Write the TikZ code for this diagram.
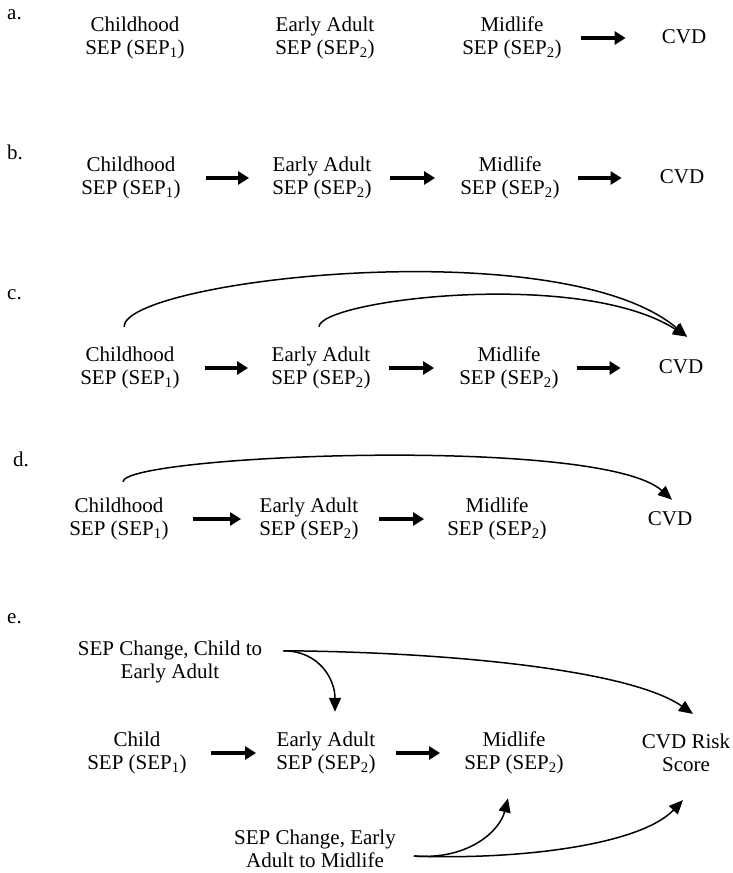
\documentclass[tikz,border=0pt]{standalone}
\usepackage{fontspec}
\setmainfont{Liberation Serif}
\usetikzlibrary{arrows.meta}
\tikzset{
  lab/.style={font=\fontsize{21}{23}\selectfont, align=center, inner sep=0pt},
  plab/.style={font=\fontsize{21}{23}\selectfont, inner sep=0pt, anchor=base west},
  fat/.style={line width=3.2pt, -{Triangle[length=11pt,width=13pt]}},
  curv/.style={line width=1.5pt, -{Triangle[length=14pt,width=12pt]}}
}
\begin{document}
\begin{tikzpicture}[x=1pt,y=-1pt]
\useasboundingbox (0,0) rectangle (733,873);
% ---------- a ----------
\node[plab] (la) at (7,19) {a.};
\node[lab] (a1) at (135,38) {Childhood\\SEP (SEP\textsubscript{1})};
\node[lab] (a2) at (325,38) {Early Adult\\SEP (SEP\textsubscript{2})};
\node[lab] (a3) at (512,38) {Midlife\\SEP (SEP\textsubscript{2})};
\node[lab] (a4) at (684,37) {CVD};
\draw[fat, shorten <=19pt, shorten >=36pt] (a3.east) -- (a3.east -| a4.west);
% ---------- b ----------
\node[plab] (lb) at (7,159) {b.};
\node[lab] (b1) at (131,178) {Childhood\\SEP (SEP\textsubscript{1})};
\node[lab] (b2) at (322,178) {Early Adult\\SEP (SEP\textsubscript{2})};
\node[lab] (b3) at (510,178) {Midlife\\SEP (SEP\textsubscript{2})};
\node[lab] (b4) at (682,177) {CVD};
\draw[fat, shorten <=25pt, shorten >=23pt] (b1.east) -- (b1.east -| b2.west);
\draw[fat, shorten <=18pt, shorten >=25pt] (b2.east) -- (b2.east -| b3.west);
\draw[fat, shorten <=18pt, shorten >=38pt] (b3.east) -- (b3.east -| b4.west);
% ---------- c ----------
\node[plab] (lc) at (7,299) {c.};
\node[lab] (c1) at (130,368) {Childhood\\SEP (SEP\textsubscript{1})};
\node[lab] (c2) at (321,368) {Early Adult\\SEP (SEP\textsubscript{2})};
\node[lab] (c3) at (509,368) {Midlife\\SEP (SEP\textsubscript{2})};
\node[lab] (c4) at (681,367) {CVD};
\draw[fat, shorten <=25pt, shorten >=23pt] (c1.east) -- (c1.east -| c2.west);
\draw[fat, shorten <=18pt, shorten >=25pt] (c2.east) -- (c2.east -| c3.west);
\draw[fat, shorten <=18pt, shorten >=38pt] (c3.east) -- (c3.east -| c4.west);
\draw[curv] ([shift={(-6pt,20pt)}]c1.north) .. controls (124,280) and (560,230) .. ([shift={(6pt,23pt)}]c4.north);
\draw[curv] ([shift={(-2pt,20pt)}]c2.north) .. controls (320,300) and (580,268) .. ([shift={(6pt,23pt)}]c4.north);
% ---------- d ----------
\node[plab] (ld) at (13,466) {d.};
\node[lab] (d1) at (119,519) {Childhood\\SEP (SEP\textsubscript{1})};
\node[lab] (d2) at (309,519) {Early Adult\\SEP (SEP\textsubscript{2})};
\node[lab] (d3) at (497,519) {Midlife\\SEP (SEP\textsubscript{2})};
\node[lab] (d4) at (670,519) {CVD};
\draw[fat, shorten <=24pt, shorten >=18pt] (d1.east) -- (d1.east -| d2.west);
\draw[fat, shorten <=20pt, shorten >=23pt] (d2.east) -- (d2.east -| d3.west);
\draw[curv] ([shift={(4pt,16pt)}]d1.north) .. controls (123,455) and (600,435) .. ([shift={(2pt,12pt)}]d4.north);
% ---------- e ----------
\node[plab] (le) at (7,623) {e.};
\node[lab] (e5) at (170,662) {SEP Change, Child to\\Early Adult};
\node[lab] (e1) at (137,753) {Child\\SEP (SEP\textsubscript{1})};
\node[lab] (e2) at (326,753) {Early Adult\\SEP (SEP\textsubscript{2})};
\node[lab] (e3) at (514,753) {Midlife\\SEP (SEP\textsubscript{2})};
\node[lab] (e4) at (686,753) {CVD Risk\\Score};
\node[lab] (e6) at (315,849) {SEP Change, Early\\Adult to Midlife};
\draw[fat, shorten <=24pt, shorten >=20pt] (e1.east) -- (e1.east -| e2.west);
\draw[fat, shorten <=20pt, shorten >=24pt] (e2.east) -- (e2.east -| e3.west);
\coordinate (t0) at ([shift={(21pt,-10pt)}]e5.north east);
\draw[curv] (t0) .. controls (320,651) and (335,680) .. ([shift={(9pt,20pt)}]e2.north);
\draw[curv] (t0) .. controls (450,652) and (630,670) .. ([shift={(7pt,20pt)}]e4.north);
\coordinate (b0) at ([shift={(18pt,12pt)}]e6.south east);
\draw[curv] (b0) .. controls (470,860) and (500,830) .. ([shift={(-6pt,-24pt)}]e3.south);
\draw[curv] (b0) .. controls (520,860) and (640,845) .. ([shift={(-3pt,-28pt)}]e4.south);
\end{tikzpicture}
\end{document}
